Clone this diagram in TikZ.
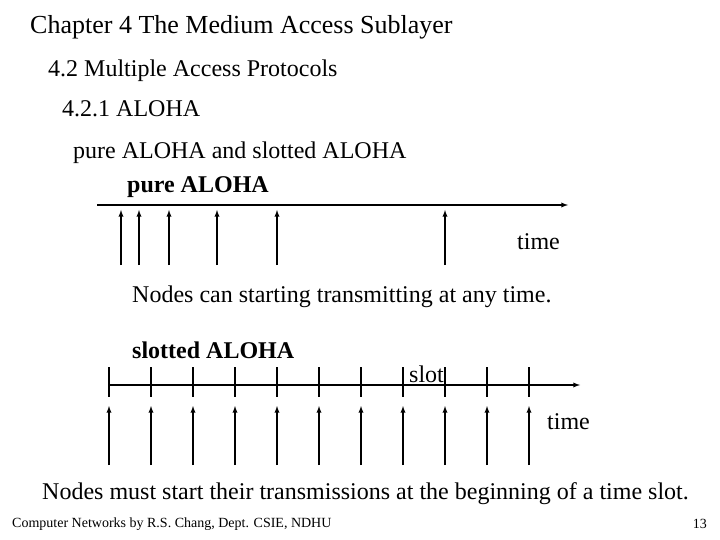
\documentclass[tikz,border=0pt]{standalone}
\usepackage{fontspec}
\setmainfont{Liberation Serif}
\begin{document}
\begin{tikzpicture}[x=1pt,y=-1pt,
  txt/.style={anchor=west,inner sep=0pt},
  ax/.style={line width=1.3pt,-latex},
  up/.style={line width=1.3pt,-latex},
  tk/.style={line width=1.3pt}]
\useasboundingbox (0,0) rectangle (720,540);
\node[txt,font=\fontsize{26}{30}\selectfont] (t1) at (30,27) {Chapter 4 The Medium Access Sublayer};
\node[txt,font=\fontsize{24}{28}\selectfont] (t2) at (48,71) {4.2 Multiple Access Protocols};
\node[txt,font=\fontsize{24}{28}\selectfont] (t3) at (62,109) {4.2.1 ALOHA};
\node[txt,font=\fontsize{24}{28}\selectfont] (t4) at (73,153) {pure ALOHA and slotted ALOHA};
\node[txt,font=\bfseries\fontsize{24}{28}\selectfont] (t5) at (127,187) {pure ALOHA};
\coordinate (pa) at (97,205); \coordinate (pb) at (568,205);
\draw[ax] (pa) -- (pb);
\foreach \x in {121,139,169,217,277,445}{
  \coordinate (pu\x) at (\x,265); \coordinate (pv\x) at (\x,210);
  \draw[up] (pu\x) -- (pv\x);}
\node[txt,font=\fontsize{24}{28}\selectfont] (t6) at (517,242) {time};
\node[txt,font=\fontsize{24}{28}\selectfont] (t7) at (132,297) {Nodes can starting transmitting at any time.};
\node[txt,font=\bfseries\fontsize{24}{28}\selectfont] (t8) at (132,350) {slotted ALOHA};
\coordinate (sa) at (109,385); \coordinate (sb) at (580,385);
\draw[ax] (sa) -- (sb);
\foreach \x in {109,151,193,235,277,319,361,403,445,487,529}{
  \coordinate (k1\x) at (\x,367); \coordinate (k2\x) at (\x,397);
  \draw[tk] (k1\x) -- (k2\x);
  \coordinate (su\x) at (\x,465); \coordinate (sv\x) at (\x,406);
  \draw[up] (su\x) -- (sv\x);}
\node[txt,font=\fontsize{24}{28}\selectfont] (t9) at (409,374) {slot};
\node[txt,font=\fontsize{24}{28}\selectfont] (t10) at (547,422) {time};
\node[txt,font=\fontsize{24}{28}\selectfont] (t11) at (42,494) {Nodes must start their transmissions at the beginning of a time slot.};
\node[txt,font=\fontsize{14}{16}\selectfont] (f1) at (12,524) {Computer Networks by R.S. Chang, Dept. CSIE, NDHU};
\node[anchor=east,inner sep=0pt,font=\fontsize{14}{16}\selectfont] (f2) at (707,524) {13};
\end{tikzpicture}
\end{document}
